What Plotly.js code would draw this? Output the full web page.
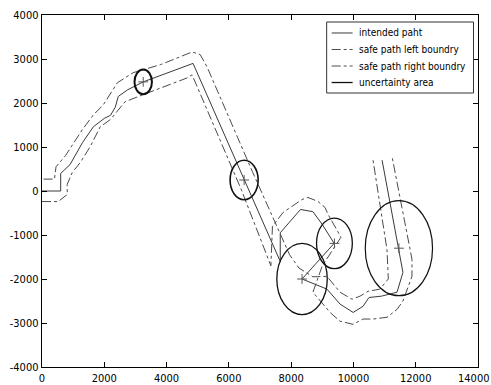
<!DOCTYPE html>
<html>
<head>
<meta charset="utf-8">
<script src="https://cdn.plot.ly/plotly-3.0.1.min.js"></script>
<style>
  html, body { margin: 0; padding: 0; background: #ffffff; }
  #chart { width: 491px; height: 385px; }
</style>
</head>
<body>
<div id="chart"></div>
<script>
// ---- data ----
const pathX  = [0, 600, 600, 900, 1300, 1650, 2000, 2200, 2350, 2450, 2750, 3250, 4850, 6490, 7650, 7650, 8300, 8700, 9000, 9380, 8350, 9150, 9570, 9990, 10310, 10500, 10900, 11400, 11590, 10920];
const pathY  = [0, 0, 400, 600, 1100, 1460, 1650, 1720, 1900, 2150, 2300, 2480, 2900, 250, -1600, -950, -420, -470, -760, -1190, -2000, -2230, -2570, -2760, -2620, -2420, -2390, -2300, -1850, 700];

const leftX  = [50, 400, 450, 750, 1300, 1650, 1970, 2190, 2420, 2930, 3800, 4820, 5080, 5300, 6750, 7950, 8250, 8700, 9150, 9570, 9955, 10210, 10470, 10850, 11120, 11077, 10630];
const leftY  = [270, 270, 550, 800, 1400, 1730, 1960, 2190, 2460, 2690, 2870, 3160, 3100, 2820, 450, -1450, -1750, -1950, -1940, -2300, -2460, -2390, -2280, -2230, -2000, -1330, 700];

const rightX = [0, 520, 810, 810, 970, 1230, 1550, 1870, 2190, 2450, 2670, 3250, 4660, 4820, 6400, 7350, 7400, 7740, 8125, 8350, 8543, 8864, 9088, 9185, 9600, 9000, 8700, 9250, 9570, 9990, 10310, 10630, 11080, 11400, 11590, 11880, 11880, 11240];
const rightY = [-240, -240, -80, 150, 420, 650, 1010, 1460, 1620, 1850, 2030, 2190, 2570, 2640, 30, -1700, -800, -488, -306, -193, -147, -238, -374, -533, -1050, -1700, -2300, -2760, -2960, -3030, -2910, -2910, -2870, -2690, -2500, -1940, -1550, 780];

const circleCX = [3250, 6490, 8350, 9390, 11460];
const circleCY = [2480, 250, -2000, -1190, -1300];
const circleR  = [280, 450, 810, 575, 1080];
const circleW  = [2, 1.6, 1.3, 1.3, 1.2];

const xTicks = [0, 2000, 4000, 6000, 8000, 10000, 12000, 14000];
const yTicks = [-4000, -3000, -2000, -1000, 0, 1000, 2000, 3000, 4000];
const seriesNames = ['intended paht', 'safe path left boundry', 'safe path right boundry', 'uncertainty area'];

const FONT = '"DejaVu Sans Condensed", "Liberation Sans Narrow", "Arial Narrow", "Liberation Sans", Arial, sans-serif';

// styles per series (path, left, right, uncertainty)
const seriesLines = [
  { color: '#3a3a3a', width: 1 },
  { color: '#4a4a4a', width: 1, dash: 'dashdot' },
  { color: '#4a4a4a', width: 1, dash: 'dashdot' },
  { color: '#111111', width: 1.3 }
];

const traces = [
  { x: pathX, y: pathY, mode: 'lines', name: seriesNames[0], line: seriesLines[0] },
  { x: leftX, y: leftY, mode: 'lines', name: seriesNames[1], line: seriesLines[1] },
  { x: rightX, y: rightY, mode: 'lines', name: seriesNames[2], line: seriesLines[2] },
  { x: circleCX, y: circleCY, mode: 'markers', name: seriesNames[3], hoverinfo: 'skip',
    marker: { symbol: 'cross-thin', size: 7, line: { color: '#555', width: 1 } } }
];

const shapes = circleCX.map((cx, i) => ({
  type: 'circle', xref: 'x', yref: 'y',
  x0: cx - circleR[i], x1: cx + circleR[i],
  y0: circleCY[i] - circleR[i], y1: circleCY[i] + circleR[i],
  line: { color: '#111', width: circleW[i] }, fillcolor: 'rgba(0,0,0,0)'
}));

// ---- hand-built legend box (MATLAB-like compact legend) ----
const legBox = { x0: 0.6529, x1: 0.9897, y0: 0.7784, y1: 0.9801 };
const legRowY = [0.9489, 0.9020, 0.8551, 0.8082];
const legLineX = [0.6644, 0.7125];
const legTextX = 0.7216;

shapes.push({
  type: 'rect', xref: 'paper', yref: 'paper', layer: 'above',
  x0: legBox.x0, x1: legBox.x1, y0: legBox.y0, y1: legBox.y1,
  fillcolor: '#ffffff', line: { color: '#333', width: 1 }
});
const annotations = [];
seriesNames.forEach((name, i) => {
  shapes.push({
    type: 'line', xref: 'paper', yref: 'paper', layer: 'above',
    x0: legLineX[0], x1: legLineX[1], y0: legRowY[i], y1: legRowY[i],
    line: seriesLines[i]
  });
  annotations.push({
    xref: 'paper', yref: 'paper', x: legTextX, y: legRowY[i],
    xanchor: 'left', yanchor: 'middle', showarrow: false,
    text: name, font: { family: FONT, size: 10, color: '#000' }
  });
});

const axisCommon = {
  showgrid: false, zeroline: false, showline: true, linecolor: '#000', linewidth: 1.3,
  mirror: 'ticks', ticks: 'inside', ticklen: 5, tickwidth: 1, tickcolor: '#000',
  tickfont: { family: FONT, size: 11, color: '#000' }, tickmode: 'array'
};

const lastX = xTicks[xTicks.length - 1];
annotations.push({
  xref: 'x', yref: 'paper', x: lastX, y: 0, yshift: -3, xshift: -5,
  xanchor: 'center', yanchor: 'top', showarrow: false,
  text: String(lastX), font: { family: FONT, size: 11, color: '#000' }
});

const layout = {
  width: 491, height: 385,
  margin: { l: 42, r: 12.5, t: 15, b: 18, pad: 0 },
  paper_bgcolor: '#fff', plot_bgcolor: '#fff',
  font: { family: FONT, size: 11, color: '#000' },
  xaxis: Object.assign({}, axisCommon, { range: [0, 14000], autorange: false,
    tickvals: xTicks.slice(0, -1), ticktext: xTicks.slice(0, -1).map(String) }),
  yaxis: Object.assign({}, axisCommon, { range: [-4000, 4000], autorange: false,
    tickvals: yTicks, ticktext: yTicks.map(String) }),
  annotations: annotations,
  showlegend: false,
  shapes: shapes
};

Plotly.newPlot('chart', traces, layout, { staticPlot: true, displayModeBar: false });
</script>
</body>
</html>
